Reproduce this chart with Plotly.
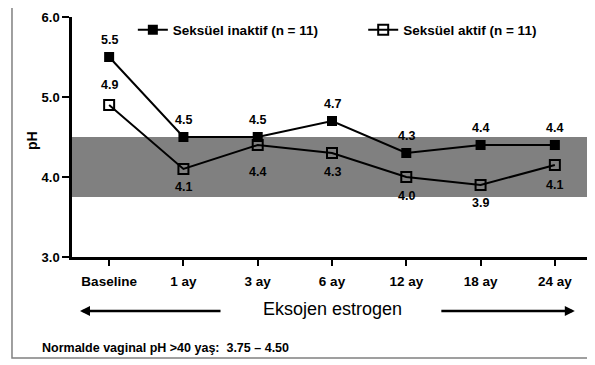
import plotly.graph_objects as go

categories = ["Baseline", "1 ay", "3 ay", "6 ay", "12 ay", "18 ay", "24 ay"]
inaktif = [5.5, 4.5, 4.5, 4.7, 4.3, 4.4, 4.4]
aktif = [4.9, 4.1, 4.4, 4.3, 4.0, 3.9, 4.15]
aktif_labels = ["4.9", "4.1", "4.4", "4.3", "4.0", "3.9", "4.1"]
normal_range = [3.75, 4.50]
y_ticks = [3.0, 4.0, 5.0, 6.0]

# label pixel offsets (style)
inaktif_shift = [17] * 7
aktif_shift = [20, -18, -27, -19, -19, -18, -20]

xs = list(range(len(categories)))
FONT = "Liberation Sans, Arial, sans-serif"

fig = go.Figure()
fig.add_trace(go.Scatter(
    x=xs, y=inaktif, mode="lines+markers", name="<b>Seksüel inaktif (n = 11)</b>",
    line=dict(color="black", width=2),
    marker=dict(symbol="square", size=10, color="black"),
    legend="legend", showlegend=True,
))
fig.add_trace(go.Scatter(
    x=xs, y=aktif, mode="lines+markers", name="<b>Seksüel aktif (n = 11)</b>",
    line=dict(color="black", width=2),
    marker=dict(symbol="square-open", size=10, color="black", line=dict(width=2)),
    legend="legend2", showlegend=True,
))

for i, v in enumerate(inaktif):
    fig.add_annotation(x=xs[i], y=v, text="<b>%.1f</b>" % v, showarrow=False,
                       yshift=inaktif_shift[i],
                       font=dict(family=FONT, size=12.5, color="black"))
for i, v in enumerate(aktif):
    fig.add_annotation(x=xs[i], y=v, text="<b>%s</b>" % aktif_labels[i], showarrow=False,
                       yshift=aktif_shift[i],
                       font=dict(family=FONT, size=12.5, color="black"))

fig.add_shape(type="rect", xref="x", yref="y", x0=-0.5, x1=len(xs) - 0.5,
              y0=normal_range[0], y1=normal_range[1],
              fillcolor="#808080", line=dict(width=0), layer="below")

# outer frame
fig.add_shape(type="rect", xref="paper", yref="paper",
              x0=-0.1154, x1=1.0019, y0=-0.4208, y1=1.058,
              line=dict(color="#808080", width=1.5))

fig.add_annotation(text="Eksojen estrogen", xref="paper", yref="paper",
                   x=0.5, y=-0.217, xanchor="center", yanchor="middle", showarrow=False,
                   font=dict(family=FONT, size=18, color="black"))
fig.add_annotation(text="", xref="paper", yref="paper", x=0.0154, y=-0.225,
                   ax=142, ay=0, showarrow=True, arrowhead=2, arrowsize=0.8,
                   arrowwidth=2.5, arrowcolor="black")
fig.add_annotation(text="", xref="paper", yref="paper", x=0.967, y=-0.225,
                   ax=-135, ay=0, showarrow=True, arrowhead=2, arrowsize=0.8,
                   arrowwidth=2.5, arrowcolor="black")
fig.add_annotation(text="<b>Normalde vaginal pH &gt;40 yaş:  %.2f – %.2f</b>" % (normal_range[0], normal_range[1]),
                   xref="paper", yref="paper", x=-0.0615, y=-0.379,
                   xanchor="left", yanchor="middle", showarrow=False,
                   font=dict(family=FONT, size=12.5, color="black"))
fig.add_annotation(text="<b>pH</b>", xref="paper", yref="paper", x=-0.077, y=0.4875,
                   xanchor="center", yanchor="middle",
                   textangle=-90, showarrow=False,
                   font=dict(family=FONT, size=14, color="black"))

fig.update_layout(
    width=587, height=357,
    margin=dict(l=64, r=3, t=9, b=108),
    paper_bgcolor="white", plot_bgcolor="white",
    font=dict(family=FONT, color="black"),
    xaxis=dict(range=[-0.5, len(xs) - 0.5], tickvals=xs,
               ticktext=["<b>%s</b>" % c for c in categories],
               showgrid=False, zeroline=False, showline=True, linecolor="black", linewidth=2.5,
               ticks="outside", ticklen=6, tickwidth=2, tickcolor="black",
               tickfont=dict(size=13.5, family=FONT), ticklabelstandoff=4),
    xaxis2=dict(range=[-0.5, len(xs) - 0.5], tickvals=xs, overlaying="x", anchor="y",
                side="bottom", showticklabels=False, showgrid=False, zeroline=False,
                ticks="inside", ticklen=7, tickwidth=2, tickcolor="black"),
    yaxis=dict(range=[3.0, 6.0], tickvals=y_ticks,
               ticktext=["<b>%.1f</b>" % v for v in y_ticks],
               showgrid=False, zeroline=False, showline=True, linecolor="black", linewidth=2.5,
               ticks="outside", ticklen=7, tickwidth=2, tickcolor="black",
               tickfont=dict(size=13, family=FONT)),
    yaxis2=dict(range=[3.0, 6.0], tickvals=y_ticks, overlaying="y", anchor="x",
                side="left", showticklabels=False, showgrid=False, zeroline=False,
                ticks="inside", ticklen=3, tickwidth=2, tickcolor="black"),
    legend=dict(x=0.117, y=0.946, xanchor="left", yanchor="middle",
                bgcolor="rgba(0,0,0,0)", font=dict(size=13.5, family=FONT),
                itemwidth=30),
    legend2=dict(x=0.56, y=0.946, xanchor="left", yanchor="middle",
                 bgcolor="rgba(0,0,0,0)", font=dict(size=13.5, family=FONT),
                 itemwidth=30),
)

fig.write_html("out.html")
